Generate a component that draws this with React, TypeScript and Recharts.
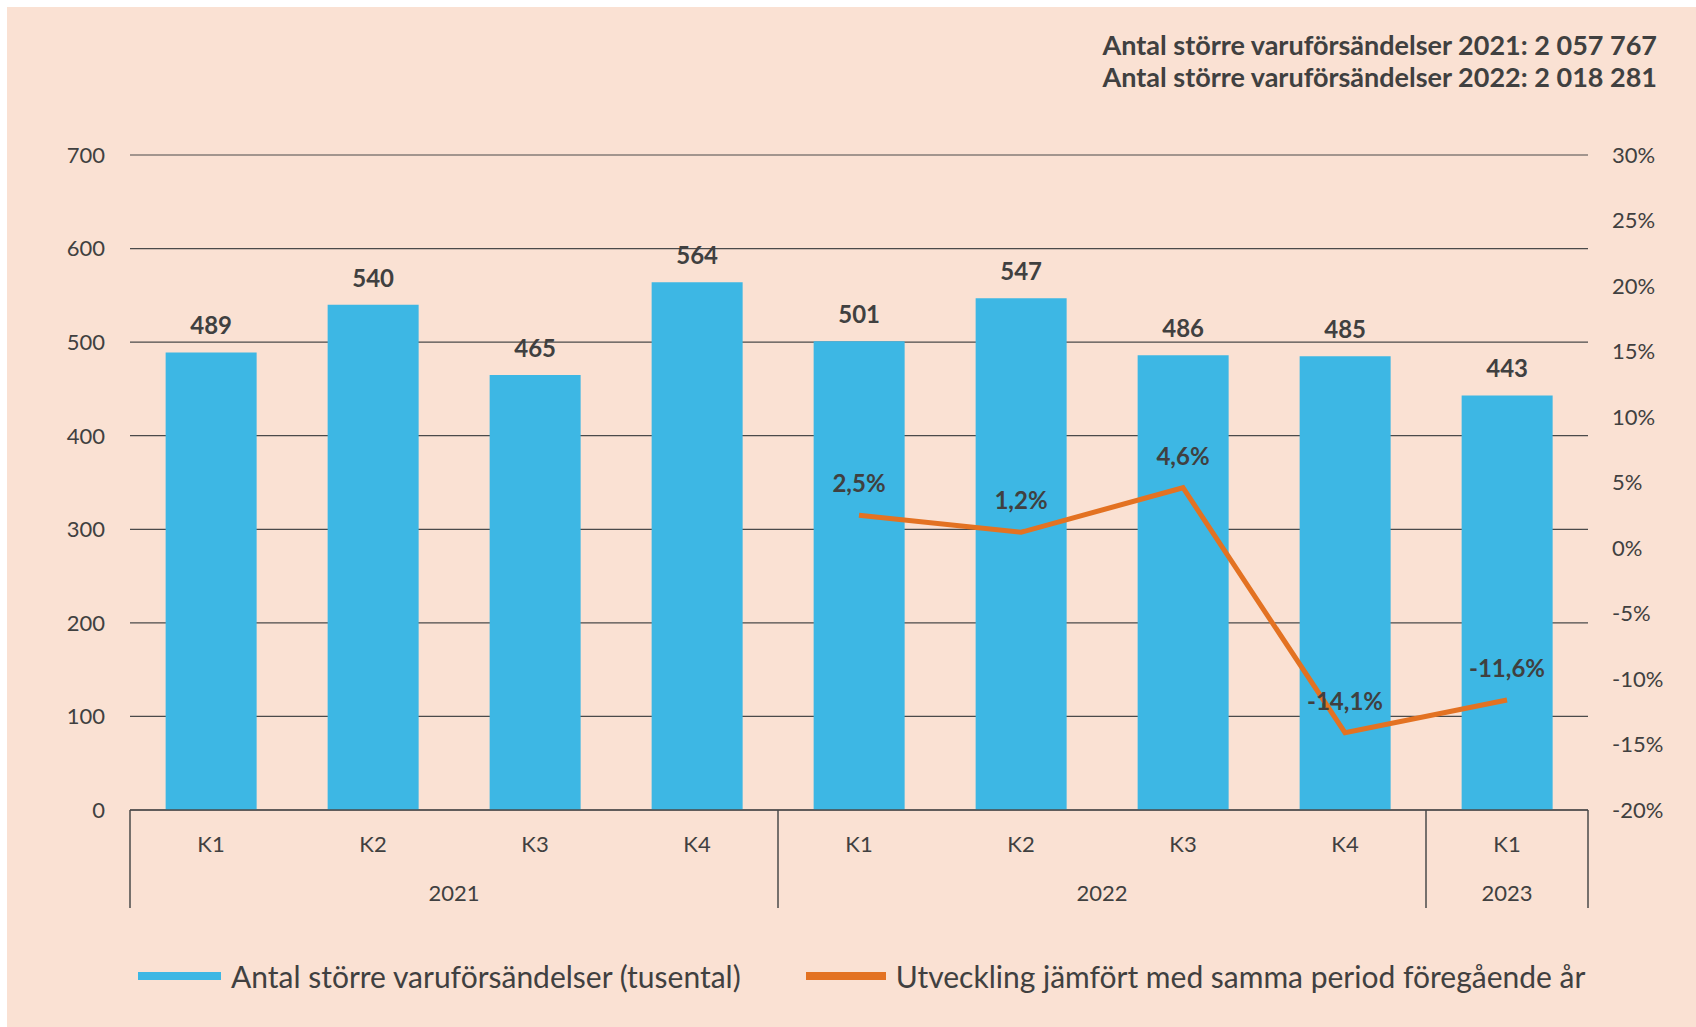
import { Bar, CartesianGrid, ComposedChart, LabelList, Legend, Line, XAxis, YAxis } from "recharts";

const quarters = ["K1", "K2", "K3", "K4", "K1", "K2", "K3", "K4", "K1"];
const years = ["2021", "2021", "2021", "2021", "2022", "2022", "2022", "2022", "2023"];
const shipments = [489, 540, 465, 564, 501, 547, 486, 485, 443];
const change: (number | null)[] = [null, null, null, null, 2.5, 1.2, 4.6, -14.1, -11.6];

const leftTicks = [0, 100, 200, 300, 400, 500, 600, 700];
const rightTicks = [-20, -15, -10, -5, 0, 5, 10, 15, 20, 25, 30];

const headerLines = [
  "Antal större varuförsändelser 2021: 2 057 767",
  "Antal större varuförsändelser 2022: 2 018 281",
];

const barName = "Antal större varuförsändelser (tusental)";
const lineName = "Utveckling jämfört med samma period föregående år";

const data = quarters.map((q, i) => ({
  key: `${years[i]} ${q}`,
  shipments: shipments[i],
  change: change[i],
}));

const BG = "#fae1d3";
const BLUE = "#3db7e4";
const ORANGE = "#e37222";
const TEXT = "#404040";
const FONT = "Lato, 'Open Sans', sans-serif";

const fmtPct = (v: number) => `${String(v).replace(".", ",")}%`;

function QuarterTick(props: any) {
  const { x, y, index } = props;
  const band = (typeof props.width === "number" ? props.width : 1458) / quarters.length;
  const left = x - band / 2;
  const groupStart = index === 0 || years[index] !== years[index - 1];
  let groupSize = 0;
  if (groupStart) {
    while (index + groupSize < years.length && years[index + groupSize] === years[index]) groupSize++;
  }
  return (
    <g>
      {groupStart && <line x1={left} x2={left} y1={y} y2={y + 98} stroke="#4a4a4a" strokeWidth={1.5} />}
      {index === quarters.length - 1 && (
        <line x1={x + band / 2} x2={x + band / 2} y1={y} y2={y + 98} stroke="#4a4a4a" strokeWidth={1.5} />
      )}
      <text x={x} y={y + 34} dy="0.35em" textAnchor="middle" fontSize={22} fill={TEXT} fontFamily={FONT}>
        {quarters[index]}
      </text>
      {groupStart && (
        <text x={left + (groupSize * band) / 2} y={y + 83} dy="0.35em" textAnchor="middle" fontSize={22} fill={TEXT} fontFamily={FONT}>
          {years[index]}
        </text>
      )}
    </g>
  );
}

function LegendContent() {
  const items = [
    { name: barName, color: BLUE, swatch: 83, gapAfter: 65 },
    { name: lineName, color: ORANGE, swatch: 80, gapAfter: 0 },
  ];
  return (
    <div style={{ display: "flex", alignItems: "center", paddingLeft: 131, fontFamily: FONT, fontSize: 30, color: TEXT, whiteSpace: "nowrap" }}>
      {items.map((it) => (
        <div key={it.name} style={{ display: "flex", alignItems: "center", marginRight: it.gapAfter }}>
          <span style={{ display: "inline-block", width: it.swatch, height: 8, background: it.color, marginRight: 10 }} />
          <span>{it.name}</span>
        </div>
      ))}
    </div>
  );
}

export default function App() {
  return (
    <div style={{ position: "fixed", left: 7, top: 7, right: 0, bottom: 0, background: BG, overflow: "hidden" }}>
      <div
        style={{
          position: "absolute",
          right: 1689 - 1650,
          top: 22,
          textAlign: "right",
          fontFamily: FONT,
          fontWeight: 700,
          fontSize: 27,
          lineHeight: "32px",
          color: TEXT,
          whiteSpace: "nowrap",
        }}
      >
        {headerLines.map((l) => (
          <div key={l}>{l}</div>
        ))}
      </div>
      <ComposedChart
        width={1689}
        height={1020}
        data={data}
        margin={{ top: 148, right: 0, bottom: 0, left: 0 }}
        barCategoryGap="22%"
        style={{ fontFamily: FONT }}
      >
        <CartesianGrid vertical={false} stroke="#4a4a4a" strokeWidth={1.2} yAxisId="left" />
        <XAxis
          dataKey="key"
          height={217}
          interval={0}
          tickLine={false}
          tickSize={0}
          tickMargin={0}
          axisLine={{ stroke: "#4a4a4a", strokeWidth: 1.5 }}
          tick={<QuarterTick />}
        />
        <YAxis
          yAxisId="left"
          width={123}
          domain={[0, 700]}
          ticks={leftTicks}
          axisLine={false}
          tickLine={false}
          tickSize={0}
          tickMargin={25}
          tick={{ fontSize: 22, fill: TEXT, fontFamily: FONT }}
        />
        <YAxis
          yAxisId="right"
          orientation="right"
          width={108}
          domain={[-20, 30]}
          ticks={rightTicks}
          axisLine={false}
          tickLine={false}
          tickSize={0}
          tickMargin={24}
          tickFormatter={(v: number) => `${v}%`}
          tick={{ fontSize: 22, fill: TEXT, fontFamily: FONT, textAnchor: "start" }}
        />
        <Legend verticalAlign="middle" layout="horizontal" wrapperStyle={{ top: 951, left: 0, width: 1689 }} content={<LegendContent />} />
        <Bar yAxisId="left" dataKey="shipments" name={barName} fill={BLUE} isAnimationActive={false}>
          <LabelList dataKey="shipments" position="top" offset={18} fontSize={24} fontWeight={700} fill={TEXT} fontFamily={FONT} />
        </Bar>
        <Line
          yAxisId="right"
          dataKey="change"
          name={lineName}
          stroke={ORANGE}
          strokeWidth={5}
          dot={false}
          activeDot={false}
          type="linear"
          isAnimationActive={false}
        >
          <LabelList
            dataKey="change"
            position="top"
            offset={23}
            fontSize={24}
            fontWeight={700}
            fill={TEXT}
            fontFamily={FONT}
            formatter={(v: any) => (v == null ? "" : fmtPct(v))}
          />
        </Line>
      </ComposedChart>
    </div>
  );
}
